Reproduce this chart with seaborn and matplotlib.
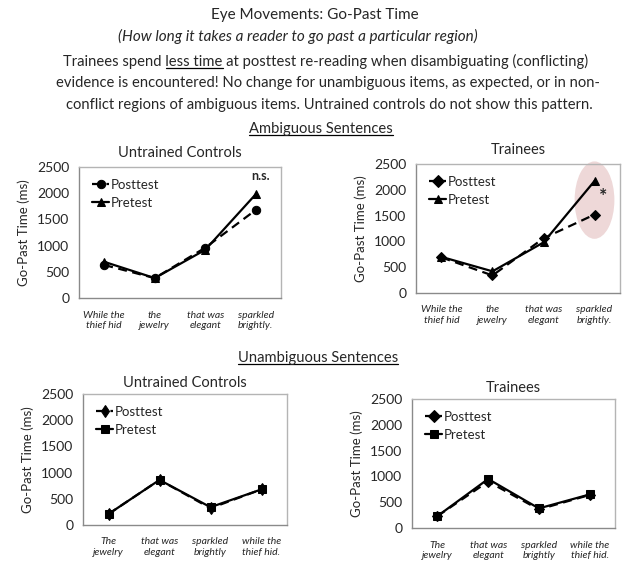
import pandas as pd
import seaborn as sns
import matplotlib.pyplot as plt
from matplotlib.patches import Ellipse
from matplotlib.lines import Line2D

# regions of the sentence (x categories)
amb_regions = ["While the\nthief hid", "the\njewelry", "that was\nelegant", "sparkled\nbrightly."]
unamb_regions = ["The\njewelry", "that was\nelegant", "sparkled\nbrightly", "while the\nthief hid."]

# go-past time (ms)
amb_ctrl_post = [630, 380, 960, 1680]
amb_ctrl_pre = [690, 380, 920, 1980]
amb_train_post = [690, 340, 1060, 1520]
amb_train_pre = [700, 420, 980, 2170]
unamb_ctrl_post = [210, 860, 320, 680]
unamb_ctrl_pre = [210, 860, 340, 680]
unamb_train_post = [230, 900, 360, 640]
unamb_train_pre = [230, 950, 380, 650]

W, H = 629, 565
sns.set_style("white")
plt.rcParams['font.family'] = ['Lato', 'DejaVu Sans']

fig = plt.figure(figsize=(W / 100, H / 100), dpi=100)


def box(left, right, top, bottom):
    return [left / W, 1 - bottom / H, (right - left) / W, (bottom - top) / H]


def panel(rect, regions, post, pre, post_marker, pre_marker, title, title_pad):
    ax = fig.add_axes(rect)
    df = pd.DataFrame({
        'region': regions * 2,
        'ms': pre + post,
        'test': ['Pretest'] * 4 + ['Posttest'] * 4,
    })
    sns.lineplot(data=df, x='region', y='ms', hue='test', style='test',
                 hue_order=['Posttest', 'Pretest'], style_order=['Posttest', 'Pretest'],
                 palette={'Posttest': 'black', 'Pretest': 'black'},
                 markers={'Posttest': post_marker, 'Pretest': pre_marker},
                 dashes={'Posttest': (4, 2.5), 'Pretest': ''},
                 markersize=6, markeredgecolor='black', linewidth=1.6,
                 sort=False, ax=ax)
    ax.set_xlim(-0.5, 3.5)
    ax.set_ylim(0, 2500)
    ax.set_yticks([0, 500, 1000, 1500, 2000, 2500])
    ax.tick_params(axis='y', length=0, pad=7, labelsize=10)
    ax.tick_params(axis='x', length=0, pad=9)
    ax.set_xticks(range(4))
    ax.set_xticklabels(regions, fontsize=7.5, style='italic')
    ax.set_xlabel('')
    ax.set_ylabel('Go-Past Time (ms)', fontsize=9.5, labelpad=5)
    ax.set_title(title, fontsize=10.5, pad=title_pad)
    for side, sp in ax.spines.items():
        sp.set_color('#b4b4b4')
        sp.set_linewidth(1)
    for side in ('left', 'bottom'):
        ax.spines[side].set_color('#8a8a8a')
    handles, labels = ax.get_legend_handles_labels()
    keep = [(h, l) for h, l in zip(handles, labels) if l in ('Posttest', 'Pretest')]
    ax.legend([h for h, _ in keep], [l for _, l in keep], loc='upper left',
              bbox_to_anchor=(0.02, 0.98), frameon=False, fontsize=9.5,
              handlelength=1.3, handletextpad=0.1, labelspacing=0.45,
              borderpad=0.2)
    return ax


ax1 = panel(box(79, 281, 167, 298), amb_regions, amb_ctrl_post, amb_ctrl_pre,
            'o', '^', 'Untrained Controls', 7)
ax1.text(3.1, 2330, 'n.s.', ha='center', va='center', fontsize=9, fontweight='bold')

ax2 = panel(box(416, 620, 164, 293), amb_regions, amb_train_post, amb_train_pre,
            'D', '^', 'Trainees', 7)
ax2.add_patch(Ellipse((3, 1800), 0.78, 1500, facecolor='#eed8d8', edgecolor='none',
                      zorder=0, clip_on=False))
ax2.text(3.16, 1870, '*', ha='center', va='center', fontsize=14, fontweight='bold')

ax3 = panel(box(83, 287, 394, 525), unamb_regions, unamb_ctrl_post, unamb_ctrl_pre,
            'd', 's', 'Untrained Controls', 5)
ax4 = panel(box(412, 615, 399, 528), unamb_regions, unamb_train_post, unamb_train_pre,
            'D', 's', 'Trainees', 5)
for ax in (ax2, ax4):
    for l in ax.lines:
        if l.get_marker() == 'D':
            l.set_markersize(5)


def ftext(x, y, s, **kw):
    return fig.text(x / W, 1 - y / H, s, ha='center', va='center', **kw)


ftext(315, 15, 'Eye Movements: Go-Past Time', fontsize=11)
ftext(298, 36, '(How long it takes a reader to go past a particular region)',
      fontsize=11, style='italic')
para = ["Trainees spend less time at posttest re-reading when disambiguating (conflicting)",
        "evidence is encountered! No change for unambiguous items, as expected, or in non-",
        "conflict regions of ambiguous items. Untrained controls do not show this pattern."]
t1 = ftext(326, 61, para[0], fontsize=10.6)
ftext(328, 83, para[1], fontsize=10.6)
ftext(329, 105, para[2], fontsize=10.6)
t_amb = ftext(321, 129, 'Ambiguous Sentences', fontsize=10.6)
t_unamb = ftext(318, 358, 'Unambiguous Sentences', fontsize=10.6)

# underlines
fig.canvas.draw()
r = fig.canvas.get_renderer()


def underline(x0, x1, ybottom):
    fig.add_artist(Line2D([x0 / W, x1 / W], [1 - ybottom / H] * 2,
                          color='black', linewidth=0.9, transform=fig.transFigure))


for t in (t_amb, t_unamb):
    bb = t.get_window_extent(r)
    underline(bb.x0, bb.x1, H - bb.y0 - 1)

bb = t1.get_window_extent(r)
tmp = fig.text(0, 0, 'Trainees spend ', fontsize=10.6)
w_pre = tmp.get_window_extent(r).width
tmp.set_text('less time')
w_mid = tmp.get_window_extent(r).width
tmp.remove()
underline(bb.x0 + w_pre, bb.x0 + w_pre + w_mid, H - bb.y0 - 1)

fig.savefig('out.png', dpi=100)
